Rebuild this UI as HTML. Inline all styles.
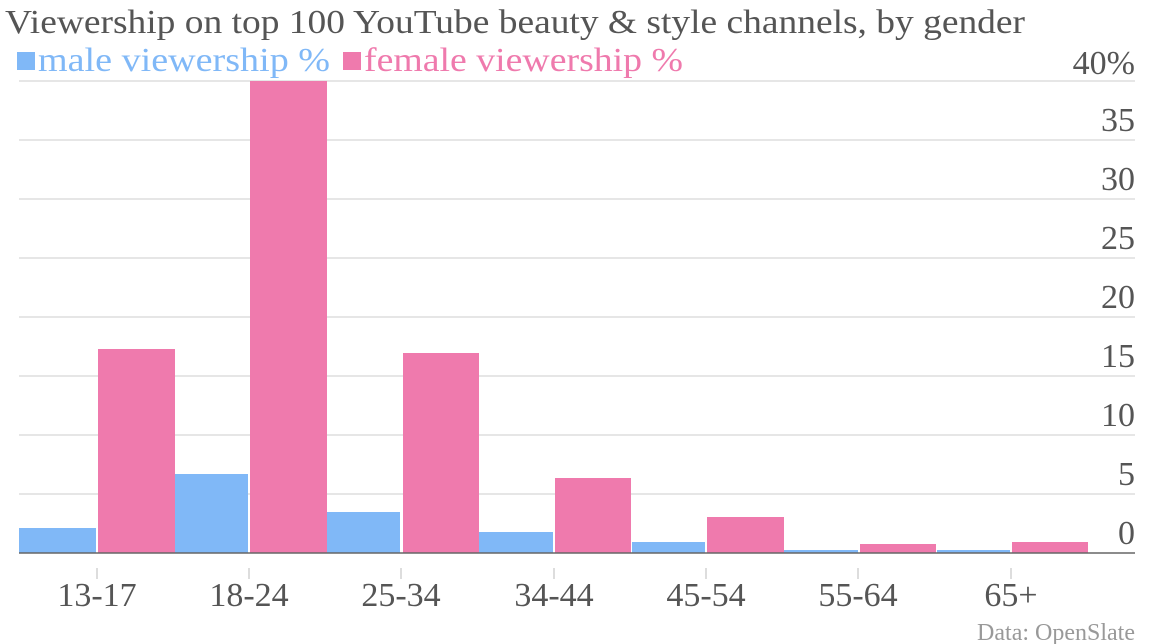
<!DOCTYPE html>
<html><head><meta charset="utf-8"><style>
html,body{margin:0;padding:0;background:#fff;}
svg{display:block;font-family:"Liberation Serif",serif;}
</style></head><body>
<svg width="1154" height="644" viewBox="0 0 1154 644" xmlns="http://www.w3.org/2000/svg">
<text x="5" y="33" font-size="34" fill="#555" textLength="1020" lengthAdjust="spacingAndGlyphs">Viewership on top 100 YouTube beauty &amp; style channels, by gender</text>
<rect x="17" y="52" width="18" height="18" fill="#80b8f7"/>
<text x="38" y="71" font-size="34" fill="#80b8f7" textLength="292" lengthAdjust="spacingAndGlyphs">male viewership %</text>
<rect x="343" y="52" width="18" height="18" fill="#ef7aad"/>
<text x="364" y="71" font-size="34" fill="#ef7aad" textLength="319" lengthAdjust="spacingAndGlyphs">female viewership %</text>
<g stroke="#e6e6e6" stroke-width="2">
<line x1="19" x2="1135" y1="81" y2="81"/><line x1="19" x2="1135" y1="140" y2="140"/>
<line x1="19" x2="1135" y1="199" y2="199"/><line x1="19" x2="1135" y1="258" y2="258"/>
<line x1="19" x2="1135" y1="317" y2="317"/><line x1="19" x2="1135" y1="376" y2="376"/>
<line x1="19" x2="1135" y1="435" y2="435"/><line x1="19" x2="1135" y1="494" y2="494"/>
</g>
<g font-size="34" fill="#555" text-anchor="end">
<text x="1135" y="74">40%</text><text x="1135" y="131">35</text><text x="1135" y="190">30</text>
<text x="1135" y="249">25</text><text x="1135" y="308">20</text><text x="1135" y="367">15</text>
<text x="1135" y="426">10</text><text x="1135" y="485">5</text><text x="1135" y="544">0</text>
</g>
<g fill="#80b8f7">
<rect x="19" y="528" width="77" height="25"/>
<rect x="175" y="474" width="73" height="79"/>
<rect x="327" y="512" width="73" height="41"/>
<rect x="479" y="532" width="74" height="21"/>
<rect x="632" y="542" width="73" height="11"/>
<rect x="784" y="550" width="74" height="3"/>
<rect x="937" y="550" width="73" height="3"/>
</g>
<g fill="#ef7aad">
<rect x="98" y="349" width="77" height="204"/>
<rect x="250" y="81" width="77" height="472"/>
<rect x="403" y="353" width="76" height="200"/>
<rect x="555" y="478" width="76" height="75"/>
<rect x="707" y="517" width="77" height="36"/>
<rect x="860" y="544" width="76" height="9"/>
<rect x="1012" y="542" width="76" height="11"/>
</g>
<line x1="19" x2="1135" y1="553" y2="553" stroke="#666" stroke-width="1.5"/>
<g stroke="#ddd" stroke-width="2">
<line x1="97" x2="97" y1="568" y2="579"/><line x1="249" x2="249" y1="568" y2="579"/>
<line x1="401" x2="401" y1="568" y2="579"/><line x1="554" x2="554" y1="568" y2="579"/>
<line x1="706" x2="706" y1="568" y2="579"/><line x1="858" x2="858" y1="568" y2="579"/>
<line x1="1011" x2="1011" y1="568" y2="579"/>
</g>
<g font-size="34" fill="#555" text-anchor="middle">
<text x="97" y="606">13-17</text><text x="249" y="606">18-24</text><text x="401" y="606">25-34</text>
<text x="554" y="606">34-44</text><text x="706" y="606">45-54</text><text x="858" y="606">55-64</text>
<text x="1011" y="606">65+</text>
</g>
<text x="1135" y="640" font-size="24" fill="#999" text-anchor="end">Data: OpenSlate</text>
</svg>
</body></html>
